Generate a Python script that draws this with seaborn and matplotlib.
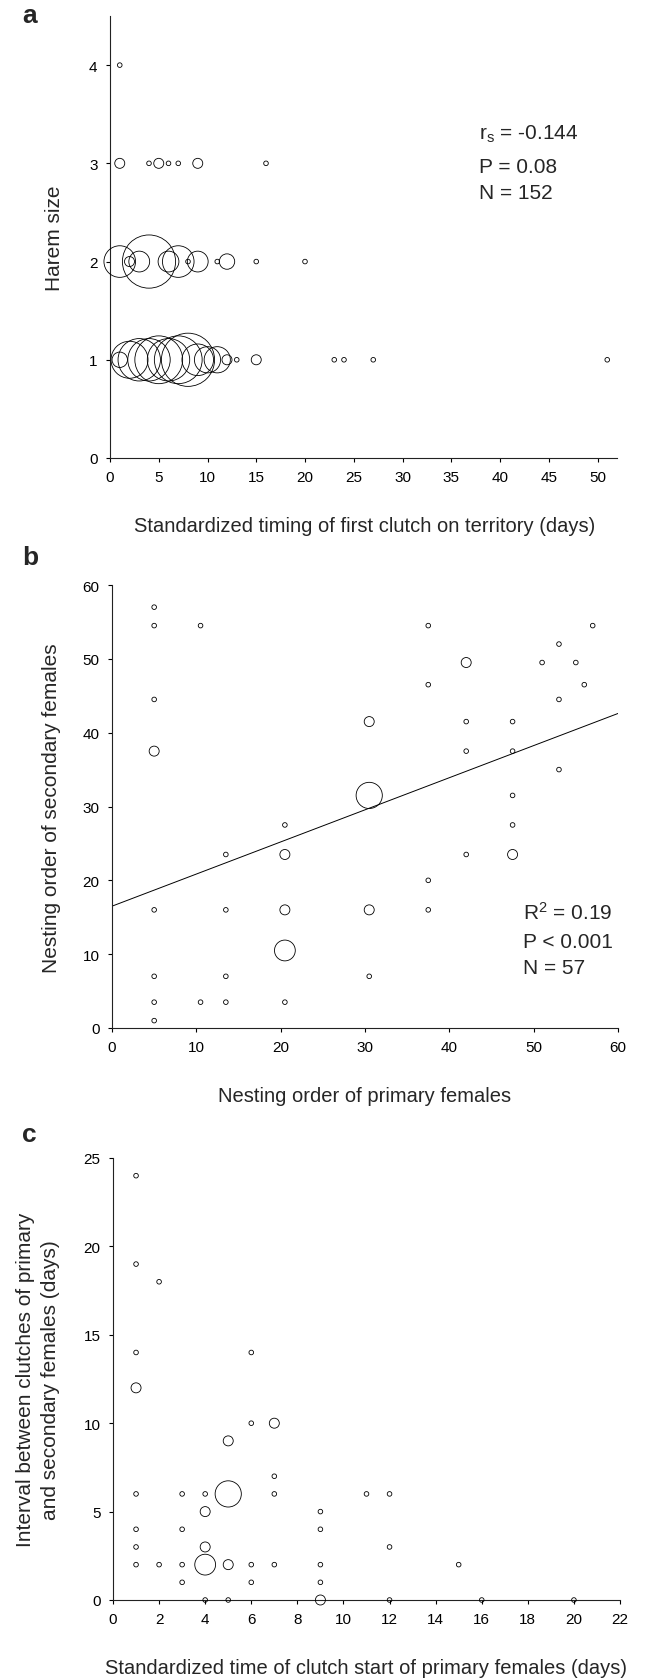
import numpy as np
import pandas as pd
import seaborn as sns
import matplotlib.pyplot as plt

sns.set_theme(style="ticks")
plt.rcParams['font.family'] = ['Liberation Sans', 'DejaVu Sans']
plt.rcParams['axes.linewidth'] = 0.8

# --- data ---
# a: harem size vs timing of first clutch; n = number of territories per point
a_day = [1, 2, 3, 4, 5, 6, 7, 8, 9, 10, 11, 12, 13, 15, 23, 24, 27, 51,
         1, 2, 3, 4, 6, 7, 8, 9, 11, 12, 15, 20,
         1, 4, 5, 6, 7, 9, 16,
         1]
a_harem = [1] * 18 + [2] * 12 + [3] * 7 + [4]
a_n = [3, 7, 8, 8, 9, 8, 9, 10, 6, 5, 5, 2, 1, 2, 1, 1, 1, 1,
       6, 2, 4, 10, 4, 6, 1, 4, 1, 3, 1, 1,
       2, 1, 2, 1, 1, 2, 1,
       1]

# b: nesting order of primary vs secondary females
b_prim = [5, 5, 5, 5, 5, 5, 5, 5,
          10.5, 10.5,
          13.5, 13.5, 13.5, 13.5,
          20.5, 20.5, 20.5, 20.5, 20.5,
          30.5, 30.5, 30.5, 30.5,
          37.5, 37.5, 37.5, 37.5,
          42, 42, 42, 42,
          47.5, 47.5, 47.5, 47.5, 47.5,
          51, 53, 53, 53, 55, 56, 57]
b_sec = [57, 54.5, 44.5, 37.5, 16, 7, 3.5, 1,
         54.5, 3.5,
         23.5, 16, 7, 3.5,
         27.5, 23.5, 16, 10.5, 3.5,
         41.5, 31.5, 16, 7,
         54.5, 46.5, 20, 16,
         49.5, 41.5, 37.5, 23.5,
         41.5, 37.5, 31.5, 27.5, 23.5,
         49.5, 52, 44.5, 35, 49.5, 46.5, 54.5]
b_n = [1, 1, 1, 2, 1, 1, 1, 1,
       1, 1,
       1, 1, 1, 1,
       1, 2, 2, 4, 1,
       2, 5, 2, 1,
       1, 1, 1, 1,
       2, 1, 1, 1,
       1, 1, 1, 1, 2,
       1, 1, 1, 1, 1, 1, 1]
b_intercept = 16.5
b_slope = 0.435

# c: clutch start of primary females vs interval to secondary clutch
c_start = [1, 1, 2, 1, 6, 1, 6, 7, 5, 7, 1, 3, 4, 5, 7, 11, 12, 4, 9, 1, 3, 9,
           1, 4, 12, 1, 2, 3, 4, 5, 6, 7, 9, 15, 3, 6, 9, 4, 5, 9, 12, 16, 20]
c_interval = [24, 19, 18, 14, 14, 12, 10, 10, 9, 7, 6, 6, 6, 6, 6, 6, 6, 5, 5, 4, 4, 4,
              3, 3, 3, 2, 2, 2, 2, 2, 2, 2, 2, 2, 1, 1, 1, 0, 0, 0, 0, 0, 0]
c_n = [1, 1, 1, 1, 1, 2, 1, 2, 2, 1, 1, 1, 1, 5, 1, 1, 1, 2, 1, 1, 1, 1,
       1, 2, 1, 1, 1, 1, 4, 2, 1, 1, 1, 1, 1, 1, 1, 1, 1, 2, 1, 1, 1]

W, H = 651, 1681
fig = plt.figure(figsize=(W / 100, H / 100), dpi=100)


def px_axes(left, right, top, bottom):
    return fig.add_axes([left / W, 1 - bottom / H, (right - left) / W, (bottom - top) / H])


def bubbles(ax, x, y, n):
    df = pd.DataFrame({"x": x, "y": y, "n": n})
    # circle diameter grows with the count (px -> pt at 100 dpi)
    size_map = {k: ((5.4 * k - 0.8) * 0.72) ** 2 for k in sorted(set(n))}
    sns.scatterplot(data=df, x="x", y="y", size="n", sizes=size_map, ax=ax,
                    facecolor="none", edgecolor="black", linewidth=0.6,
                    legend=False, clip_on=False, zorder=3)


def style(ax):
    sns.despine(ax=ax)
    ax.tick_params(direction="out", length=3, width=0.8, labelsize=11,
                   colors="black", pad=6)
    ax.set_xlabel("")
    ax.set_ylabel("")
    for s in ["left", "bottom"]:
        ax.spines[s].set_color("#222222")


# ---- panel a ----
ax_a = px_axes(110, 617, 17, 459)
bubbles(ax_a, a_day, a_harem, a_n)
ax_a.set_xlim(0, 52)
ax_a.set_ylim(0, 4.5)
ax_a.set_xticks(range(0, 51, 5))
ax_a.set_yticks(range(0, 5))
style(ax_a)

# ---- panel b ----
ax_b = px_axes(112, 618, 586, 1029)
bubbles(ax_b, b_prim, b_sec, b_n)
ax_b.axline((0, b_intercept), slope=b_slope, color="black", linewidth=0.7)
ax_b.set_xlim(0, 60)
ax_b.set_ylim(0, 60)
ax_b.set_xticks(range(0, 61, 10))
ax_b.set_yticks(range(0, 61, 10))
style(ax_b)

# ---- panel c ----
ax_c = px_axes(113, 620, 1159, 1601)
bubbles(ax_c, c_start, c_interval, c_n)
ax_c.set_xlim(0, 22)
ax_c.set_ylim(0, 25)
ax_c.set_xticks(range(0, 23, 2))
ax_c.set_yticks(range(0, 26, 5))
style(ax_c)


def ftext(x, y, s, **kw):
    fig.text(x / W, 1 - y / H, s, **kw)


# panel letters
for lab, yb in [("a", 23), ("b", 565), ("c", 1142)]:
    ftext(22, yb, lab, fontsize=19, fontweight="bold", va="baseline", ha="left")

# axis labels
ftext(365, 526, "Standardized timing of first clutch on territory (days)",
      fontsize=14.5, ha="center", va="center")
ftext(54, 238, "Harem size", fontsize=15, rotation=90, ha="center", va="center")

ftext(365, 1097, "Nesting order of primary females",
      fontsize=14.5, ha="center", va="center")
ftext(52, 808, "Nesting order of secondary females", fontsize=15,
      rotation=90, ha="center", va="center")

ftext(366, 1669, "Standardized time of clutch start of primary females (days)",
      fontsize=14.5, ha="center", va="center")
ftext(38, 1380, "Interval between clutches of primary\nand secondary females (days)",
      fontsize=15, rotation=90, ha="center", va="center", linespacing=1.45,
      multialignment="center")

# statistics
for s, yb in [("$\\mathregular{r_s}$ = -0.144", 140), ("P = 0.08", 173), ("N = 152", 199)]:
    ftext(479, yb, s, fontsize=15, ha="left", va="baseline")
for s, yb in [("$\\mathregular{R^2}$ = 0.19", 920), ("P < 0.001", 948), ("N = 57", 974)]:
    ftext(523, yb, s, fontsize=15, ha="left", va="baseline")

fig.savefig("out.png", dpi=100)
